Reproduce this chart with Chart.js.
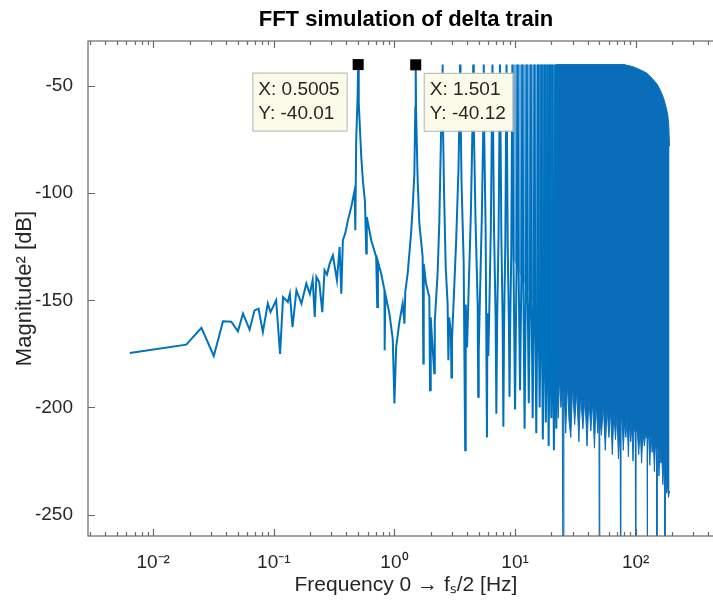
<!DOCTYPE html>
<html>
<head>
<meta charset="utf-8">
<title>FFT simulation of delta train</title>
<script src="https://cdn.jsdelivr.net/npm/chart.js@4.4.1/dist/chart.umd.min.js"></script>
<style>
    html, body { margin: 0; padding: 0; background: #fff; overflow: hidden; }
    #wrap { width: 760px; height: 604px; }
</style>
</head>
<body>
<div id="wrap"><canvas id="fftChart" width="760" height="604"></canvas></div>
<script>
// Spectrum: frequency [Hz] and magnitude^2 [dB]
const specFreq = [
    0.0064, 0.0188, 0.0251, 0.0318, 0.0379, 0.0444, 0.0504, 0.0555, 0.0630, 0.0692,
    0.0747, 0.0811, 0.0892, 0.0939, 0.1045, 0.1127, 0.1193, 0.1306, 0.1358, 0.1429,
    0.1540, 0.1694, 0.1860, 0.1990, 0.2100, 0.2184, 0.2254, 0.2380, 0.2523, 0.2635,
    0.2760, 0.2903, 0.3090, 0.3337, 0.3510, 0.3626, 0.3737, 0.3900, 0.4114, 0.4385,
    0.4675, 0.4740, 0.4820, 0.4950, 0.5005, 0.5060, 0.5310, 0.5470, 0.5700, 0.5840,
    0.5900, 0.6420, 0.7060, 0.7200, 0.7300, 0.7760, 0.8270, 0.8300, 0.8400, 0.9090,
    0.9680, 1.0000, 1.0330, 1.1000, 1.1710, 1.2100, 1.2300, 1.2880, 1.3730, 1.4170,
    1.4630, 1.4900, 1.5010, 1.5120, 1.5580, 1.6090, 1.7140, 1.7360, 1.7500, 1.8270,
    1.9470, 1.9730, 2.0000, 2.0500, 2.1400, 2.1600, 2.2800, 2.3540, 2.4300, 2.4800,
    2.5000, 2.5200, 2.5800, 2.6600, 2.7600, 2.8000, 2.8500, 2.9400, 2.9700, 3.0000,
    3.1000, 3.2500, 3.4000, 3.4700, 3.5000, 3.5300, 3.6000, 3.7500, 3.8600, 3.9000,
    4.0000, 4.1000, 4.3000, 4.4500, 4.5000, 4.5500, 4.7000, 4.9000, 4.9500, 5.0000,
    5.1000, 5.3000, 5.4500, 5.5000, 5.5500, 5.7000, 5.8500, 5.9000, 6.0000, 6.1000,
    6.3000, 6.5000, 6.7000, 6.9000, 7.0000, 7.1000, 7.3000, 7.5000, 7.7000, 7.9000,
    8.0000, 8.1000, 8.3000, 8.5000, 8.7000, 8.9000, 9.0000, 9.1000, 9.3000, 9.5000,
    9.7000, 10.000, 10.300, 10.500, 10.700, 11.000, 11.300, 11.500, 11.700, 12.000,
    12.300, 12.500, 12.700, 13.000, 13.300, 13.500, 13.700, 14.000, 14.300, 14.500,
    14.700, 15.000, 15.300, 15.500, 15.700, 16.000, 16.300, 16.500, 16.700, 17.000,
    17.300, 17.500, 17.700, 18.000, 18.300, 18.500, 18.700, 19.000, 19.300, 19.500,
    19.700, 20.000, 20.300, 20.500, 20.700, 21.000, 21.300, 21.500, 21.700, 22.000,
    22.300, 22.500
];
const specMag = [
    -174.6, -170.7, -162.9, -176.0, -159.8, -160.0, -164.5, -156.2, -163.7, -154.7,
    -153.9, -164.8, -151.5, -155.5, -150.0, -175.0, -148.5, -150.8, -146.9, -162.5,
    -145.3, -151.5, -142.2, -147.0, -140.5, -157.8, -139.1, -141.5, -155.5, -136.0,
    -138.0, -132.9, -129.0, -140.7, -125.1, -146.9, -122.0, -119.0, -112.7, -106.5,
    -98.7, -117.3, -75.3, -55.0, -40.01, -58.0, -83.1, -94.0, -104.0, -128.2,
    -111.1, -122.0, -129.8, -153.1, -132.0, -137.5, -145.3, -173.3, -147.0, -156.2,
    -168.0, -198.2, -172.0, -160.0, -151.5, -160.9, -146.0, -137.5, -118.9, -106.5,
    -90.9, -60.0, -40.12, -62.0, -94.0, -114.2, -129.8, -179.5, -133.0, -142.2,
    -148.5, -192.0, -158.0, -168.0, -184.0, -160.0, -137.5, -114.2, -75.0, -55.0,
    -40.0, -58.0, -100.0, -134.0, -152.0, -178.0, -158.0, -166.0, -186.0, -168.0,
    -150.0, -122.0, -88.0, -58.0, -40.0, -60.0, -95.0, -132.0, -220.0, -152.0,
    -172.0, -150.0, -110.0, -65.0, -40.0, -68.0, -112.0, -152.0, -195.0, -174.0,
    -152.0, -112.0, -70.0, -40.0, -72.0, -116.0, -214.0, -156.0, -176.0, -158.0,
    -116.0, -40.0, -118.0, -158.0, -203.0, -160.0, -120.0, -40.0, -120.0, -162.0,
    -209.0, -165.0, -124.0, -40.0, -126.0, -163.0, -195.0, -165.0, -128.0, -40.0,
    -130.0, -201.0, -132.0, -40.0, -135.0, -192.0, -136.0, -40.0, -138.0, -210.0,
    -140.0, -40.0, -142.0, -198.0, -145.0, -40.0, -148.0, -205.0, -150.0, -40.0,
    -152.0, -212.0, -155.0, -40.0, -158.0, -200.0, -160.0, -40.0, -162.0, -215.0,
    -164.0, -40.0, -166.0, -207.0, -168.0, -40.0, -170.0, -218.0, -171.0, -40.0,
    -172.0, -205.0, -174.0, -40.0, -175.0, -220.0, -176.0, -40.0, -178.0, -210.0,
    -179.0, -40.0
];

// Lighter overlapping strands between ~10 and 23 Hz
const lightTopFreq = [9.6, 23];
const lightTopMag = [-40, -40];
const lightFloorFreq = [9.6, 11, 13, 15, 17, 19, 21, 23];
const lightFloorMag = [-130, -138, -146, -155, -163, -170, -175, -180];

// Solid band from ~22 Hz up to fs/2
const bandTopFreq = [22, 80, 95, 110, 124, 137, 150, 160, 170, 178, 184, 188, 191];
const bandTopMag = [-40, -40, -41, -42.5, -44, -46.5, -49, -52, -55.5, -59.5, -63, -68, -78];
const bandFloorFreq = [
    22, 22.8, 23.4, 24.0, 24.6, 25.0, 25.4, 26.3, 27.2, 28.0,
    29.0, 30.0, 31.2, 32.5, 33.8, 35.0, 36.5, 38.0, 39.5, 41.0,
    42.5, 44.0, 45.5, 47.0, 48.5, 49.6, 50.0, 50.4, 52.0, 54.0,
    56.0, 58.0, 60.0, 62.0, 64.0, 66.0, 68.0, 70.0, 72.0, 74.4,
    75.0, 75.6, 77.0, 79.0, 81.0, 83.0, 85.0, 87.0, 89.0, 91.0,
    93.0, 95.0, 97.0, 99.3, 100.0, 100.7, 103.0, 106.0, 109.0, 112.0,
    115.0, 118.0, 121.0, 124.3, 125.0, 125.7, 128.0, 131.0, 134.0, 137.0,
    140.0, 143.0, 146.0, 149.2, 150.0, 150.8, 153.0, 156.0, 159.0, 162.0,
    165.0, 168.0, 171.0, 174.2, 175.0, 175.8, 178.0, 181.0, 184.0, 187.0,
    191.0
];
const bandFloorMag = [
    -182, -205, -186, -200, -192, -300, -190, -212, -188, -206,
    -214, -190, -208, -192, -216, -194, -210, -195, -218, -196,
    -211, -197, -219, -198, -212, -204, -300, -205, -213, -199,
    -220, -200, -214, -201, -222, -202, -215, -203, -224, -210,
    -300, -210, -205, -220, -206, -214, -205, -223, -207, -216,
    -208, -225, -209, -212, -300, -212, -210, -222, -210, -226,
    -211, -218, -212, -215, -300, -215, -213, -227, -213, -221,
    -215, -230, -216, -222, -300, -222, -218, -232, -220, -226,
    -224, -236, -228, -232, -300, -232, -233, -240, -236, -242,
    -239
];

// MATLAB data tips
const tipFreq = [0.5005, 1.501];
const tipMag = [-40.01, -40.12];

// Axes
const xRange = [0.00288, 540];
const yRange = [-260, -29];
const xMajorTicks = [0.01, 0.1, 1, 10, 100];
const xTickLabels = ['10⁻²', '10⁻¹', '10⁰', '10¹', '10²'];
const yTicks = [-250, -200, -150, -100, -50];

const LINE_BLUE = '#0072BD';
const BAND_BLUE = '#0a6dba';
const LIGHT_BLUE = 'rgba(72,150,212,0.8)';
const TEXT = '#262626';
const AXIS = '#6a6a6a';
const FONT = "'Liberation Sans', Arial, Helvetica, sans-serif";

Chart.defaults.font.family = FONT;
Chart.defaults.color = TEXT;

const toXY = (xs, ys) => xs.map((x, i) => ({ x: x, y: ys[i] }));

// Frame, inward ticks, data tips and title, drawn the MATLAB way
const matlabAxes = {
    id: 'matlabAxes',
    afterDatasetsDraw(chart) {
        const { ctx, chartArea: a, scales: { x, y } } = chart;
        ctx.save();
        ctx.strokeStyle = AXIS;
        ctx.lineWidth = 1.2;
        ctx.strokeRect(a.left, a.top, a.right - a.left, a.bottom - a.top);

        ctx.beginPath();
        x.ticks.forEach(t => {
            const px = Math.round(x.getPixelForValue(t.value)) + 0.5;
            const len = xMajorTicks.includes(t.value) ? 7 : 4;
            ctx.moveTo(px, a.bottom); ctx.lineTo(px, a.bottom - len);
            ctx.moveTo(px, a.top); ctx.lineTo(px, a.top + len);
        });
        y.ticks.forEach(t => {
            const py = Math.round(y.getPixelForValue(t.value)) + 0.5;
            ctx.moveTo(a.left, py); ctx.lineTo(a.left + 7, py);
            ctx.moveTo(a.right, py); ctx.lineTo(a.right - 7, py);
        });
        ctx.stroke();

        // data tip boxes
        ctx.font = '19px ' + FONT;
        ctx.textBaseline = 'middle';
        ctx.textAlign = 'left';
        tipFreq.forEach((f, i) => {
            const mx = x.getPixelForValue(f);
            const my = y.getPixelForValue(tipMag[i]);
            const lines = ['X: ' + f, 'Y: ' + tipMag[i]];
            const w = Math.max(...lines.map(s => ctx.measureText(s).width)) + 13;
            const h = 58;
            const bx = i === 0 ? mx - 11.5 - w : mx + 8;
            const by = my + 8;
            ctx.fillStyle = '#fcfae8';
            ctx.fillRect(bx, by, w, h);
            ctx.strokeStyle = '#b4b4b4';
            ctx.lineWidth = 1;
            ctx.strokeRect(bx + 0.5, by + 0.5, w, h);
            ctx.fillStyle = TEXT;
            ctx.fillText(lines[0], bx + 6, by + 17);
            ctx.fillText(lines[1], bx + 6, by + 41);
        });

        // title
        ctx.font = 'bold 22px ' + FONT;
        ctx.textAlign = 'center';
        ctx.fillStyle = '#000';
        ctx.fillText('FFT simulation of delta train', (a.left + a.right) / 2, 20);
        ctx.restore();
    }
};

new Chart(document.getElementById('fftChart'), {
    type: 'line',
    data: {
        datasets: [
            {
                label: 'data tips',
                data: toXY(tipFreq, tipMag),
                showLine: false,
                pointStyle: 'rect',
                pointRadius: 7.8,
                pointBackgroundColor: '#000',
                pointBorderWidth: 0,
                order: 0
            },
            {
                label: 'spectrum',
                data: toXY(specFreq, specMag),
                borderColor: LINE_BLUE,
                borderWidth: 2,
                pointRadius: 0,
                fill: false,
                order: 1
            },
            {
                label: 'band top',
                data: toXY(bandTopFreq, bandTopMag),
                borderColor: BAND_BLUE,
                backgroundColor: BAND_BLUE,
                borderWidth: 1,
                pointRadius: 0,
                fill: '+1',
                order: 2
            },
            {
                label: 'band floor',
                data: toXY(bandFloorFreq, bandFloorMag),
                borderColor: BAND_BLUE,
                borderWidth: 1,
                pointRadius: 0,
                fill: false,
                order: 2
            },
            {
                label: 'light top',
                data: toXY(lightTopFreq, lightTopMag),
                borderColor: LIGHT_BLUE,
                backgroundColor: LIGHT_BLUE,
                borderWidth: 0,
                pointRadius: 0,
                fill: '+1',
                order: 3
            },
            {
                label: 'light floor',
                data: toXY(lightFloorFreq, lightFloorMag),
                borderColor: LIGHT_BLUE,
                borderWidth: 0,
                pointRadius: 0,
                fill: false,
                order: 3
            }
        ]
    },
    options: {
        responsive: false,
        animation: false,
        events: [],
        layout: { padding: { left: 0, top: 41, right: 36, bottom: 0 } },
        plugins: {
            legend: { display: false },
            tooltip: { enabled: false },
            title: { display: false }
        },
        scales: {
            x: {
                type: 'logarithmic',
                min: xRange[0],
                max: xRange[1],
                grid: { display: false },
                border: { display: false },
                afterBuildTicks(scale) {
                    const vals = [];
                    [0.001, 0.01, 0.1, 1, 10, 100].forEach(d => {
                        for (let m = 1; m <= 9; m++) {
                            const v = Number((d * m).toPrecision(6));
                            if (v >= xRange[0] && v <= xRange[1]) vals.push({ value: v });
                        }
                    });
                    scale.ticks = vals;
                },
                ticks: {
                    autoSkip: false,
                    maxRotation: 0,
                    minRotation: 0,
                    padding: 7,
                    font: { size: 19 },
                    color: TEXT,
                    callback(value) {
                        const k = xMajorTicks.indexOf(value);
                        return k >= 0 ? xTickLabels[k] : '';
                    }
                },
                title: {
                    display: true,
                    text: 'Frequency 0 → fₛ/2 [Hz]',
                    font: { size: 21 },
                    color: TEXT,
                    padding: { top: 0, bottom: 6 }
                },
                afterFit(scale) { scale.height = 68; }
            },
            y: {
                type: 'linear',
                min: yRange[0],
                max: yRange[1],
                grid: { display: false },
                border: { display: false },
                afterBuildTicks(scale) {
                    scale.ticks = yTicks.map(v => ({ value: v }));
                },
                ticks: {
                    padding: 7,
                    font: { size: 19 },
                    color: TEXT,
                    callback: value => String(value)
                },
                title: {
                    display: true,
                    text: 'Magnitude² [dB]',
                    font: { size: 22 },
                    color: TEXT,
                    padding: { top: 12, bottom: 0 }
                },
                afterFit(scale) { scale.width = 88; }
            }
        }
    },
    plugins: [matlabAxes]
});
</script>
</body>
</html>
